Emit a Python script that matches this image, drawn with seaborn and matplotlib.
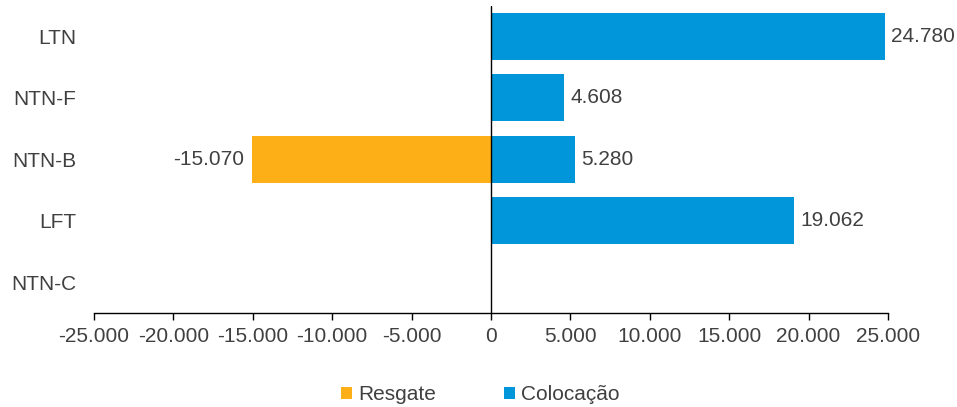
import matplotlib
matplotlib.use("Agg")
import matplotlib.pyplot as plt
import seaborn as sns
import pandas as pd
from matplotlib.ticker import FuncFormatter, MultipleLocator
from matplotlib.patches import Patch

categories = ["LTN", "NTN-F", "NTN-B", "LFT", "NTN-C"]
resgate = [0, 0, -15070, 0, 0]
colocacao = [24780, 4608, 5280, 19062, 0]
series_names = ["Resgate", "Colocação"]
colors = {"Resgate": "#FCAF17", "Colocação": "#0096D9"}

df = pd.DataFrame({
    "cat": categories * 2,
    "series": [series_names[0]] * len(categories) + [series_names[1]] * len(categories),
    "value": resgate + colocacao,
})

sns.set_theme(style="white")
plt.rcParams["font.family"] = ["Liberation Sans", "DejaVu Sans"]
text_color = "#404040"
fs = 15

fig = plt.figure(figsize=(9.57, 4.07), dpi=100)
ax = fig.add_axes([94 / 957, (407 - 313) / 407, (888 - 94) / 957, (313 - 5.5) / 407])

sns.barplot(data=df, y="cat", x="value", hue="series", order=categories,
            hue_order=series_names, palette=colors, dodge=False, width=0.76,
            linewidth=0, saturation=1, legend=False, ax=ax)

ax.set_xlim(-25000, 25000)
ax.set_ylim(len(categories) - 0.5, -0.5)
ax.xaxis.set_major_locator(MultipleLocator(5000))
fmt = lambda v: f"{v:,.0f}".replace(",", ".")
ax.xaxis.set_major_formatter(FuncFormatter(lambda v, p: fmt(v)))
ax.axvline(0, color="black", linewidth=1.0)

for s in ["top", "right", "left"]:
    ax.spines[s].set_visible(False)
ax.spines["bottom"].set_color("black")
ax.spines["bottom"].set_linewidth(1.0)
ax.tick_params(axis="x", direction="out", length=5, width=1, color="black",
               labelsize=fs, labelcolor=text_color, pad=5, bottom=True)
ax.tick_params(axis="y", length=0, labelsize=fs, labelcolor=text_color, pad=13)
ax.set_xlabel("")
ax.set_ylabel("")

for i, v in enumerate(colocacao):
    if v != 0:
        ax.text(v + 400, i, fmt(v), va="center", ha="left", fontsize=fs, color=text_color)
for i, v in enumerate(resgate):
    if v != 0:
        ax.text(v - 500, i, fmt(v), va="center", ha="right", fontsize=fs, color=text_color)

handles = [Patch(facecolor=colors[n], edgecolor="none") for n in series_names]
fig.legend(handles, series_names, loc="center", bbox_to_anchor=(0.502, 0.03),
           ncol=2, frameon=False, fontsize=fs, handlelength=0.5, handleheight=0.5,
           handletextpad=0.3, columnspacing=3.3, labelcolor=text_color)

fig.savefig("out.png", dpi=100)
